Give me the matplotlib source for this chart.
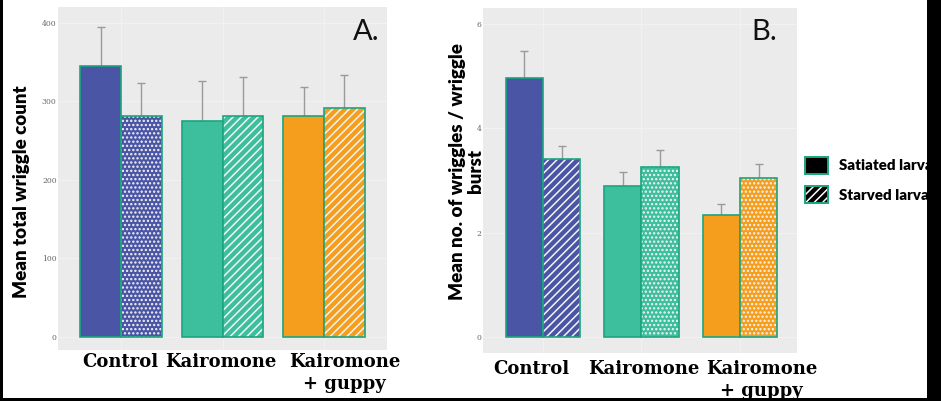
import matplotlib
matplotlib.use("Agg")
import matplotlib.pyplot as plt
import numpy as np
from matplotlib.patches import Patch, Rectangle
from matplotlib.legend_handler import HandlerTuple
import matplotlib.transforms as mtransforms

# ---- data ----
categories = ["Control", "Kairomone", "Kairomone\n+ guppy"]
groups = ["Satiated larvae", "Starved larvae"]

a_satiated = [345, 275, 281.5]
a_satiated_err = [49, 51, 36.5]
a_starved = [281.5, 281.5, 291]
a_starved_err = [41.5, 49.5, 42]

b_satiated = [4.97, 2.90, 2.34]
b_satiated_err = [0.51, 0.26, 0.20]
b_starved = [3.41, 3.26, 3.04]
b_starved_err = [0.26, 0.33, 0.27]

a_yticks = [0, 100, 200, 300, 400]
b_yticks = [0, 2, 4, 6]

# ---- style ----
bar_colors = ["#4a55a5", "#3dbf9d", "#f59e1e"]
edge_col = "#1aa67e"
panel_bg = "#ebebeb"
err_col = "#9a9a9a"

W, H = 941, 401
fig = plt.figure(figsize=(W / 100, H / 100), dpi=100)
fig.patch.set_facecolor("white")


def px_axes(l, t, r, b):
    return fig.add_axes([l / W, 1 - b / H, (r - l) / W, (b - t) / H])


def draw_panel(ax, sat, sat_err, sta, sta_err, width, hatches, xlim, ylim, yticks):
    ax.set_facecolor(panel_bg)
    x = np.arange(1, len(categories) + 1)
    xs = x - width / 2
    xt = x + width / 2
    # satiated bars
    ax.bar(xs, sat, width=width, color=bar_colors, edgecolor=edge_col,
           linewidth=1.2, zorder=3)
    # starved bars: hatch layer then outline
    for i in range(len(x)):
        ax.bar(xt[i], sta[i], width=width, color=bar_colors[i],
               edgecolor="#f4f4f4", linewidth=0, hatch=hatches[i], zorder=3)
    ax.bar(xt, sta, width=width, fill=False, edgecolor=edge_col,
           linewidth=1.2, zorder=4)
    # error bars (upper only)
    zeros = np.zeros(len(x))
    ax.errorbar(xs, sat, yerr=[zeros, sat_err], fmt="none", ecolor=err_col,
                elinewidth=1.0, capsize=3, capthick=1.0, zorder=2)
    ax.errorbar(xt, sta, yerr=[zeros, sta_err], fmt="none", ecolor=err_col,
                elinewidth=1.0, capsize=3, capthick=1.0, zorder=2)
    ax.set_xlim(*xlim)
    ax.set_ylim(*ylim)
    ax.set_yticks(yticks)
    ax.set_yticklabels([str(t) for t in yticks], fontsize=5.5, color="#666666",
                       family="DejaVu Serif")
    ax.set_xticks(x)
    ax.set_xticklabels([])
    ax.tick_params(length=0, pad=1)
    ax.grid(True, color="#f3f3f3", linewidth=0.6, zorder=0)
    ax.set_axisbelow(True)
    for s in ax.spines.values():
        s.set_visible(False)


plt.rcParams["hatch.linewidth"] = 1.1

axA = px_axes(58, 7, 387, 350)
draw_panel(axA, a_satiated, a_satiated_err, a_starved, a_starved_err, 0.4,
           ["....", "////", "////"], (0.38, 3.62), (-16.6, 420), a_yticks)

axB = px_axes(483, 8, 797, 353)
draw_panel(axB, b_satiated, b_satiated_err, b_starved, b_starved_err, 0.38,
           ["////", "....", "...."], (0.39, 3.58), (-0.31, 6.31), b_yticks)

# category labels (hand-placed as in the original figure)
label_font = dict(family="DejaVu Serif", fontweight="bold", fontsize=13,
                  color="black", ha="center", va="top", linespacing=1.3)
transA = mtransforms.blended_transform_factory(axA.transData, axA.transAxes)
for xpos, lab in zip([0.99, 1.985, 3.2], categories):
    axA.text(xpos, -0.008, lab, transform=transA, clip_on=False, **label_font)
transB = mtransforms.blended_transform_factory(axB.transData, axB.transAxes)
for xpos, lab in zip([0.885, 2.02, 3.22], categories):
    axB.text(xpos, -0.02, lab, transform=transB, clip_on=False, **label_font)

# axis titles
fig.text(22 / W, 1 - 192 / H, "Mean total wriggle count", rotation=90,
         ha="center", va="center", fontsize=13.5, fontweight="heavy",
         family="Lato", color="black")
fig.text(457 / W, 1 - 172 / H, "Mean no. of wriggles / wriggle", rotation=90,
         ha="center", va="center", fontsize=13.5, fontweight="heavy",
         family="Lato", color="black")
fig.text(475 / W, 1 - 171 / H, "burst", rotation=90,
         ha="center", va="center", fontsize=13.5, fontweight="heavy",
         family="Lato", color="black")

# panel letters
fig.text(380 / W, 1 - 32 / H, "A.", ha="right", va="center", fontsize=21,
         family="Lato", color="#111111")
fig.text(777 / W, 1 - 32 / H, "B.", ha="right", va="center", fontsize=21,
         family="Lato", color="#111111")

# legend
h_sat = Patch(facecolor="black", edgecolor=edge_col, linewidth=1.4)
h_sta_fill = Patch(facecolor="black", edgecolor="white", linewidth=0, hatch="////")
h_sta_edge = Patch(fill=False, edgecolor=edge_col, linewidth=1.4)
leg = fig.legend([h_sat, (h_sta_fill, h_sta_edge)], groups,
                 handler_map={tuple: HandlerTuple(ndivide=1, pad=0)},
                 loc="center left", bbox_to_anchor=(805 / W, 1 - 180 / H),
                 frameon=False, borderpad=0, borderaxespad=0,
                 handlelength=1.5, handleheight=1.4, handletextpad=0.75,
                 labelspacing=0.8,
                 prop=dict(family="Lato", weight="heavy", size=10.8))
for t in leg.get_texts():
    t.set_color("black")

# dark frame edges of the original screenshot
for (l, b, w, h) in [(0, 0, 3, H), (0, 0, W, 3), (927, 0, W - 927, H)]:
    fig.add_artist(Rectangle((l / W, b / H), w / W, h / H,
                             transform=fig.transFigure, facecolor="black",
                             edgecolor="none", zorder=100))

fig.savefig("out.png", dpi=100, facecolor=fig.get_facecolor())
